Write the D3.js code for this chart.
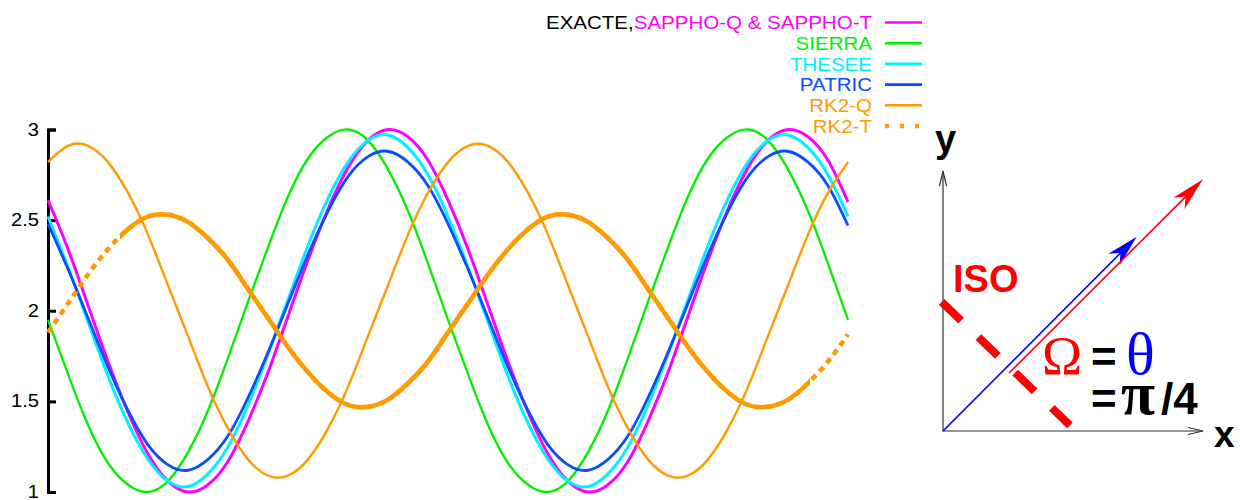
<!DOCTYPE html>
<html>
<head>
<meta http-equiv="Content-Type" content="text/html; charset=UTF-8">
<style>
body { margin: 0; background: #fff; }
text { font-family: "Liberation Sans", Arial, sans-serif; }
.axis path, .axis line { stroke: #000; stroke-width: 3px; }
.axis text { font-size: 17.5px; fill: #000; }
.serie { fill: none; }
</style>
</head>
<body>
<svg width="1240" height="500"></svg>
<script src="https://cdn.jsdelivr.net/npm/d3@7/dist/d3.min.js"></script>
<script>

var temps = [0, 0.05, 0.1, 0.15, 0.2, 0.25, 0.3, 0.35, 0.4, 0.45, 0.5, 0.55, 0.6, 0.65, 0.7, 0.75, 0.8, 0.85, 0.9, 0.95,
             1, 1.05, 1.1, 1.15, 1.2, 1.25, 1.3, 1.35, 1.4, 1.45, 1.5, 1.55, 1.6, 1.65, 1.7, 1.75, 1.8, 1.85, 1.9, 1.95, 2];

var exacte = [2.61, 2.34, 2.03, 1.72, 1.44, 1.21, 1.06, 1.00, 1.04, 1.17, 1.39, 1.66, 1.97, 2.28, 2.56, 2.79, 2.94, 3.00, 2.96, 2.83,
              2.61, 2.34, 2.03, 1.72, 1.44, 1.21, 1.06, 1.00, 1.04, 1.17, 1.39, 1.66, 1.97, 2.28, 2.56, 2.79, 2.94, 3.00, 2.96, 2.83, 2.60];
var sierra = [1.95, 1.65, 1.37, 1.16, 1.04, 1.00, 1.06, 1.22, 1.45, 1.74, 2.05, 2.35, 2.63, 2.84, 2.96, 3.00, 2.94, 2.78, 2.55, 2.26,
              1.95, 1.65, 1.37, 1.16, 1.04, 1.00, 1.06, 1.22, 1.45, 1.74, 2.05, 2.35, 2.63, 2.84, 2.96, 3.00, 2.94, 2.78, 2.55, 2.26, 1.95];
var thesee = [2.52, 2.24, 1.94, 1.64, 1.38, 1.18, 1.06, 1.03, 1.10, 1.25, 1.48, 1.76, 2.06, 2.36, 2.62, 2.82, 2.94, 2.97, 2.90, 2.75,
              2.52, 2.24, 1.94, 1.64, 1.38, 1.18, 1.06, 1.03, 1.10, 1.25, 1.48, 1.76, 2.06, 2.36, 2.62, 2.82, 2.94, 2.97, 2.90, 2.75, 2.52];
var patric = [2.48, 2.23, 1.96, 1.69, 1.45, 1.26, 1.15, 1.12, 1.18, 1.31, 1.52, 1.77, 2.04, 2.31, 2.55, 2.74, 2.85, 2.88, 2.82, 2.69,
              2.48, 2.23, 1.96, 1.69, 1.45, 1.26, 1.15, 1.12, 1.18, 1.31, 1.52, 1.77, 2.04, 2.31, 2.55, 2.74, 2.85, 2.88, 2.82, 2.69, 2.47];
var rk2q = [2.82, 2.91, 2.91, 2.82, 2.65, 2.42, 2.14, 1.86, 1.58, 1.35, 1.18, 1.09, 1.09, 1.18, 1.35, 1.58, 1.86, 2.14, 2.42, 2.65,
            2.82, 2.91, 2.91, 2.82, 2.65, 2.42, 2.14, 1.86, 1.58, 1.35, 1.18, 1.09, 1.09, 1.18, 1.35, 1.58, 1.86, 2.14, 2.42, 2.65, 2.82];
var rk2t = [1.88, 2.04, 2.20, 2.34, 2.45, 2.52, 2.53, 2.49, 2.40, 2.28, 2.12, 1.96, 1.80, 1.66, 1.55, 1.48, 1.47, 1.51, 1.60, 1.72,
            1.88, 2.04, 2.20, 2.34, 2.45, 2.52, 2.53, 2.49, 2.40, 2.28, 2.12, 1.96, 1.80, 1.66, 1.55, 1.48, 1.47, 1.51, 1.60, 1.72, 1.87];

var yTicks = [1, 1.5, 2, 2.5, 3];
var yTickLabels = ["1", "1.5", "2", "2.5", "3"];

var legendNames = ["SAPPHO-Q & SAPPHO-T", "SIERRA", "THESEE", "PATRIC", "RK2-Q", "RK2-T"];
var legendColors = ["#ff00ff", "#00f000", "#00f0ff", "#0a4cff", "#ff9a00", "#ff9a00"];

// RK2-T is dotted at both ends
var rk2tSolid = [0.18, 1.905];

var svg = d3.select("svg");

var x = d3.scaleLinear().domain([0, 2]).range([48, 848]);
var y = d3.scaleLinear().domain([1, 3]).range([492, 129.5]);

var series = [
  { values: exacte, color: legendColors[0], width: 3 },
  { values: sierra, color: legendColors[1], width: 2.3 },
  { values: thesee, color: legendColors[2], width: 3 },
  { values: patric, color: legendColors[3], width: 2.8 },
  { values: rk2q, color: legendColors[4], width: 2.4 }
];

var line = d3.line()
    .x(function(d, i) { return x(temps[i]); })
    .y(function(d) { return y(d); })
    .curve(d3.curveNatural);

svg.append("g")
    .attr("class", "axis")
    .attr("transform", "translate(48,0)")
    .call(d3.axisLeft(y)
        .tickValues(yTicks)
        .tickFormat(function(d, i) { return yTickLabels[i]; })
        .tickSizeInner(-8)
        .tickSizeOuter(-8)
        .tickPadding(10))
  .selectAll("text")
    .attr("x", 0)
    .attr("transform", "translate(-9,0) scale(1.15,1)");

svg.selectAll(".serie")
    .data(series)
  .enter().append("path")
    .attr("class", "serie")
    .attr("stroke", function(d) { return d.color; })
    .attr("stroke-width", function(d) { return d.width; })
    .attr("d", function(d) { return line(d.values); });

// RK2-T : dotted everywhere, solid in the middle
svg.append("clipPath")
    .attr("id", "mid")
  .append("rect")
    .attr("x", x(rk2tSolid[0]))
    .attr("y", 0)
    .attr("width", x(rk2tSolid[1]) - x(rk2tSolid[0]))
    .attr("height", 500);

svg.append("path")
    .attr("class", "serie")
    .attr("stroke", legendColors[5])
    .attr("stroke-width", 4.5)
    .attr("stroke-dasharray", "6,5")
    .attr("d", line(rk2t));

svg.append("path")
    .attr("class", "serie")
    .attr("clip-path", "url(#mid)")
    .attr("stroke", legendColors[5])
    .attr("stroke-width", 4.5)
    .attr("d", line(rk2t));

// legend
var legend = svg.append("g");
legendNames.forEach(function(name, i) {
  var ly = 22.5 + i * 20.7;
  var t = legend.append("text")
      .attr("transform", "translate(872," + (ly + 6.6) + ") scale(1.14,1)")
      .attr("text-anchor", "end")
      .style("font-size", "18px");
  if (i === 0) t.append("tspan").attr("fill", "#000").text("EXACTE,");
  t.append("tspan").attr("fill", legendColors[i]).text(name);
  legend.append("line")
      .attr("x1", 885).attr("x2", 922)
      .attr("y1", ly).attr("y2", ly)
      .attr("stroke", legendColors[i])
      .attr("stroke-width", i === 5 ? 4.5 : 2.6)
      .attr("stroke-dasharray", i === 5 ? "4,11" : null);
});

// inset: reference frame sketch
var ix = d3.scaleLinear().domain([0, 1]).range([943, 1203]);
var iy = d3.scaleLinear().domain([0, 1]).range([431, 171]);
var inset = svg.append("g");

function openHead(x1, y1, x2, y2) {
  var a = Math.atan2(y2 - y1, x2 - x1), L = 15, w = 3.5;
  var bx = x2 - L * Math.cos(a), by = y2 - L * Math.sin(a);
  var nx = -Math.sin(a) * w, ny = Math.cos(a) * w;
  return "M" + (bx + nx) + "," + (by + ny) + "L" + x2 + "," + y2 + "L" + (bx - nx) + "," + (by - ny);
}
function fullHead(x1, y1, x2, y2, L, w) {
  var a = Math.atan2(y2 - y1, x2 - x1);
  var c = Math.cos(a), s = Math.sin(a);
  var bx = x2 - L * c, by = y2 - L * s;
  var mx = x2 - L * 0.72 * c, my = y2 - L * 0.72 * s;
  return "M" + x2 + "," + y2 + "L" + (bx - s * w) + "," + (by + c * w) +
         "L" + mx + "," + my + "L" + (bx + s * w) + "," + (by - c * w) + "Z";
}

inset.append("path")
    .attr("d", "M" + ix(0) + "," + iy(1) + "V" + iy(0) + "H" + ix(1))
    .attr("fill", "none").attr("stroke", "#333").attr("stroke-width", 1.2);
inset.append("path")
    .attr("d", openHead(ix(0), iy(0), ix(0), iy(1)) + openHead(ix(0), iy(0), ix(1), iy(0)))
    .attr("fill", "none").attr("stroke", "#333").attr("stroke-width", 1.2);

// ISO dashed line
inset.append("line")
    .attr("x1", ix(-0.005)).attr("y1", iy(0.497))
    .attr("x2", ix(0.488)).attr("y2", iy(0.022))
    .attr("stroke", "#ff0000").attr("stroke-width", 8)
    .attr("stroke-dasharray", "27,24");

// blue and red vectors
var vb = [ix(0), iy(0), ix(0.745), iy(0.747)];
var vr = [ix(0.254), iy(0.223), ix(1.0), iy(0.968)];
inset.append("line")
    .attr("x1", vb[0]).attr("y1", vb[1]).attr("x2", vb[2] - 10).attr("y2", vb[3] + 10)
    .attr("stroke", "#0000ff").attr("stroke-width", 1.6);
inset.append("path").attr("d", fullHead(vb[0], vb[1], vb[2], vb[3], 32, 8)).attr("fill", "#0000ff");
inset.append("line")
    .attr("x1", vr[0]).attr("y1", vr[1]).attr("x2", vr[2] - 10).attr("y2", vr[3] + 10)
    .attr("stroke", "#ff0000").attr("stroke-width", 1.6);
inset.append("path").attr("d", fullHead(vr[0], vr[1], vr[2], vr[3], 34, 8)).attr("fill", "#ff0000");

inset.append("text").attr("x", 935).attr("y", 151.5)
    .style("font-size", "38px").style("font-weight", "bold").text("y");
inset.append("text").attr("x", 1214).attr("y", 447)
    .style("font-size", "37px").style("font-weight", "bold").text("x");
inset.append("text").attr("x", 953).attr("y", 292)
    .style("font-size", "38px").style("font-weight", "bold").attr("fill", "#ff0000").text("ISO");

// Ω = θ  /  = π/4
var row1 = inset.append("text").attr("y", 374);
row1.append("tspan").attr("x", 1042)
    .style("font-family", "'Liberation Serif', serif").style("font-size", "54px")
    .attr("fill", "#ff0000").text("\u03A9");
row1.append("tspan").attr("x", 1091).attr("dy", -2)
    .style("font-size", "44px").style("font-weight", "bold").text("=");
row1.append("tspan").attr("x", 1126).attr("dy", 2)
    .style("font-family", "'Liberation Serif', serif").style("font-size", "60px")
    .attr("fill", "#0000ff").text("\u03B8");

var row2 = inset.append("text").attr("y", 414);
row2.append("tspan").attr("x", 1091)
    .style("font-size", "44px").style("font-weight", "bold").text("=");
row2.append("tspan").attr("x", 1121)
    .style("font-family", "'Liberation Serif', serif").style("font-size", "62px").style("font-weight", "bold")
    .text("\u03C0");
row2.append("tspan").attr("x", 1161)
    .style("font-size", "44px").style("font-weight", "bold").text("/4");

</script>
</body></html>
